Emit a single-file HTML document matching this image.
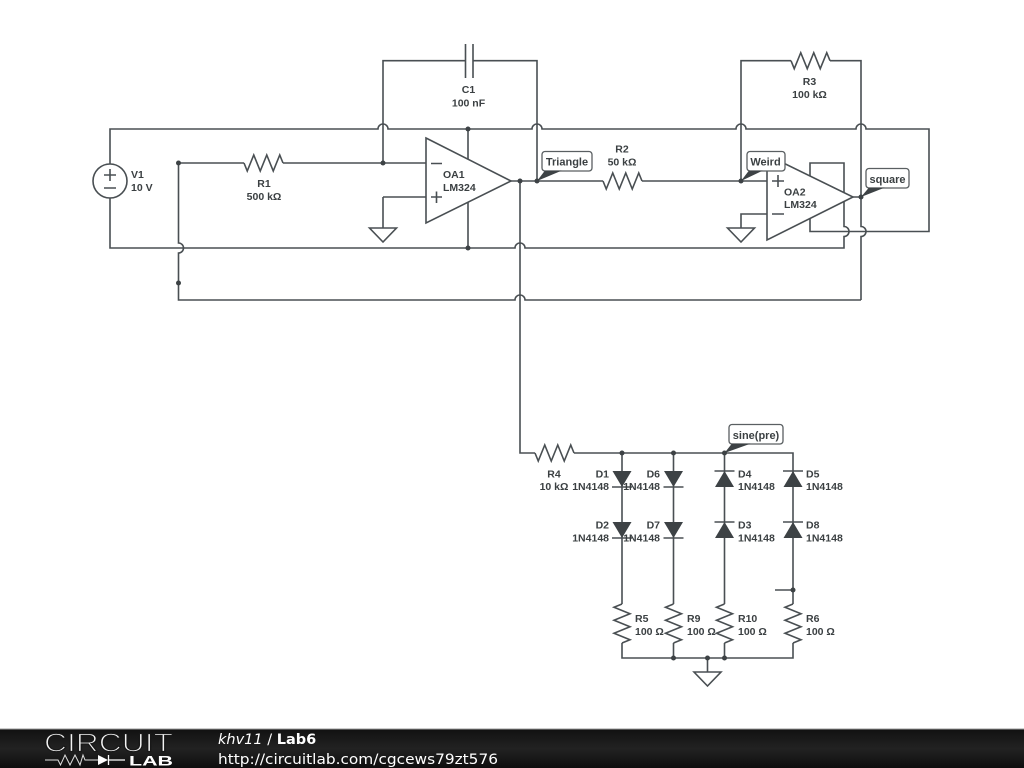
<!DOCTYPE html>
<html>
<head>
<meta charset="utf-8">
<style>
html,body{margin:0;padding:0;background:#fff;width:1024px;height:768px;overflow:hidden}
svg{display:block}
.w{fill:none;stroke:#4a4f52;stroke-width:1.6}
.g{fill:#fff;stroke:#4a4f52;stroke-width:1.6}
.o{fill:#fff;stroke:#4a4f52;stroke-width:1.6}
.d{fill:#3c4245;stroke:none}
.t{font-family:"Liberation Sans",sans-serif;font-weight:bold;font-size:10.500px;fill:#3a3f42}
.n{font-size:11px}
.m{text-anchor:middle}
.e{text-anchor:end}
.b{fill:#fff;stroke:#5a5f62;stroke-width:1.300}
</style>
</head>
<body>
<svg width="1024" height="768" viewBox="0 0 1024 768" xmlns="http://www.w3.org/2000/svg">
<defs>
<linearGradient id="f" x1="0" y1="0" x2="0" y2="1">
<stop offset="0" stop-color="#111"/><stop offset="0.5" stop-color="#222"/><stop offset="1" stop-color="#0e0e0e"/>
</linearGradient>
<filter id="soft" filterUnits="userSpaceOnUse" x="0" y="0" width="1024" height="768"><feGaussianBlur stdDeviation="0.3"/></filter>
<path id="rh" d="M0 0L3.250 8L9.750 -8L16.250 8L22.750 -8L29.250 8L35.750 -8L39 0" fill="none" stroke="#4a4f52" stroke-width="1.600"/>
<path id="rv" d="M0 0L-8 3.250L8 9.750L-8 16.250L8 22.750L-8 29.250L8 35.750L0 39" fill="none" stroke="#4a4f52" stroke-width="1.600"/>
<g id="dd"><path d="M-9.500 0H9.500L0 16Z" class="d"/><path d="M-10 16H10" class="w"/></g>
<g id="du"><path d="M-9.500 16H9.500L0 0Z" class="d"/><path d="M-10 0H10" class="w"/></g>
<path id="gnd" d="M-13.500 0H13.500L0 14Z" class="g"/>
</defs>

<g filter="url(#soft)">
<!-- top supply wire with hops -->
<path class="w" d="M110 164V129H378A5 5 0 0 1 388 129H532A5 5 0 0 1 542 129H736A5 5 0 0 1 746 129H856A5 5 0 0 1 866 129H929V231.500H810V163H844V226.500A5 5 0 0 1 844 236.500V248H525A5 5 0 0 0 515 248H183.500"/>
<!-- V1 bottom wire -->
<path class="w" d="M110 198V248H183.500"/>
<path class="w" d="M178.500 163H244M283 163H426"/>
<path class="w" d="M178.500 163V243A5 5 0 0 1 178.500 253V300H515A5 5 0 0 1 525 300H861"/>
<!-- C1 -->
<path class="w" d="M383 197V228M383 163V60.700H465.500M473 60.700H537V181"/>
<path class="w" d="M465.500 44V78M473 44V78"/>
<!-- R3 -->
<path class="w" d="M741 181V60.700H791M830 60.700H861V226.500A5 5 0 0 1 861 236.500V300"/>
<use href="#rh" x="791" y="60.700"/>
<use href="#rh" x="244" y="163"/>
<use href="#rh" x="603" y="181"/>
<path class="w" d="M468 129V248M426 197H383"/>
<path class="w" d="M511 181H603M642 181H767M520 181V453H535M574 453H793V471"/>
<path class="w" d="M853 197H861M767 214H741V228"/>
<!-- OA1 -->
<path class="o" d="M426 138L511 181L426 223Z"/>
<path class="w" d="M431 163.500H442M436.500 191.500V203M431 197H442"/>
<!-- OA2 -->
<path class="o" d="M767 155L853 197L767 240Z"/>
<path class="w" d="M772 181H784M778 175V187M772 214H784"/>
<!-- V1 symbol -->
<circle cx="110" cy="181" r="17" class="w"/>
<path class="w" d="M104 175H116M110 169V181M104 188H116"/>
<!-- grounds -->
<use href="#gnd" x="383" y="228"/>
<use href="#gnd" x="741" y="228"/>
<use href="#gnd" x="707.500" y="672"/>
<!-- R4 -->
<use href="#rh" x="535" y="453"/>
<!-- Branches -->
<path class="w" d="M622 453V604M673.500 453V604M724.500 453V604M793 471V604"/>
<path class="w" d="M622 643V658H793V643M673.500 643V658M724.500 643V658M707.500 658V672M793 590H775"/>
<use href="#dd" x="622" y="471"/><use href="#dd" x="622" y="522"/>
<use href="#dd" x="673.500" y="471"/><use href="#dd" x="673.500" y="522"/>
<use href="#du" x="724.500" y="471"/><use href="#du" x="724.500" y="522"/>
<use href="#du" x="793" y="471"/><use href="#du" x="793" y="522"/>
<use href="#rv" x="622" y="604"/><use href="#rv" x="673.500" y="604"/>
<use href="#rv" x="724.500" y="604"/><use href="#rv" x="793" y="604"/>
<!-- dots -->
<g class="d">
<circle cx="178.500" cy="163" r="2.500"/><circle cx="178.500" cy="283" r="2.500"/>
<circle cx="383" cy="163" r="2.500"/><circle cx="468" cy="129" r="2.500"/><circle cx="468" cy="248" r="2.500"/>
<circle cx="520" cy="181" r="2.500"/><circle cx="537" cy="181" r="2.500"/><circle cx="741" cy="181" r="2.500"/><circle cx="861" cy="197" r="2.500"/>
<circle cx="622" cy="453" r="2.500"/><circle cx="673.500" cy="453" r="2.500"/><circle cx="724.500" cy="453" r="2.500"/>
<circle cx="793" cy="590" r="2.500"/><circle cx="673.500" cy="658" r="2.500"/><circle cx="707.500" cy="658" r="2.500"/><circle cx="724.500" cy="658" r="2.500"/>
</g>
<!-- net labels -->
<rect class="b" x="542" y="151.500" width="50" height="19.500" rx="3"/>
<path class="d" d="M537 181L545 170.500H562Z"/>
<text class="t m n" x="567" y="165.500">Triangle</text>
<rect class="b" x="747" y="151.500" width="38" height="19.500" rx="3"/>
<path class="d" d="M741 181L749 170.500H763Z"/>
<text class="t m n" x="765.500" y="165.500">Weird</text>
<rect class="b" x="866" y="168.500" width="43" height="19.500" rx="3"/>
<path class="d" d="M861 197L869 187.500H885Z"/>
<text class="t m n" x="887.500" y="183">square</text>
<rect class="b" x="729" y="424.500" width="54" height="19.500" rx="3"/>
<path class="d" d="M724.500 453L732 443.500H751Z"/>
<text class="t m n" x="756" y="439">sine(pre)</text>
<!-- text labels -->
<text class="t" x="131" y="178">V1</text><text class="t" x="131" y="191">10 V</text>
<text class="t m" x="264" y="187">R1</text><text class="t m" x="264" y="200">500 kΩ</text>
<text class="t m" x="468.500" y="93">C1</text><text class="t m" x="468.500" y="106.500">100 nF</text>
<text class="t" x="443" y="178">OA1</text><text class="t" x="443" y="191">LM324</text>
<text class="t m" x="622" y="152.500">R2</text><text class="t m" x="622" y="165.500">50 kΩ</text>
<text class="t m" x="809.500" y="85">R3</text><text class="t m" x="809.500" y="98">100 kΩ</text>
<text class="t" x="784" y="195.500">OA2</text><text class="t" x="784" y="208">LM324</text>
<text class="t m" x="554" y="477.500">R4</text><text class="t m" x="554" y="490">10 kΩ</text>
<text class="t e" x="609" y="477.500">D1</text><text class="t e" x="609" y="490">1N4148</text>
<text class="t e" x="609" y="528.500">D2</text><text class="t e" x="609" y="541.500">1N4148</text>
<text class="t e" x="660" y="477.500">D6</text><text class="t e" x="660" y="490">1N4148</text>
<text class="t e" x="660" y="528.500">D7</text><text class="t e" x="660" y="541.500">1N4148</text>
<text class="t" x="738" y="477.500">D4</text><text class="t" x="738" y="490">1N4148</text>
<text class="t" x="738" y="528.500">D3</text><text class="t" x="738" y="541.500">1N4148</text>
<text class="t" x="806" y="477.500">D5</text><text class="t" x="806" y="490">1N4148</text>
<text class="t" x="806" y="528.500">D8</text><text class="t" x="806" y="541.500">1N4148</text>
<text class="t" x="635" y="622">R5</text><text class="t" x="635" y="635">100 Ω</text>
<text class="t" x="687" y="622">R9</text><text class="t" x="687" y="635">100 Ω</text>
<text class="t" x="738" y="622">R10</text><text class="t" x="738" y="635">100 Ω</text>
<text class="t" x="806" y="622">R6</text><text class="t" x="806" y="635">100 Ω</text>
</g>
<!-- footer -->
<rect x="0" y="729" width="1024" height="39" fill="url(#f)"/>
<rect x="0" y="728.500" width="1024" height="1" fill="#9a9a9a"/>
<text x="44" y="751.500" font-family="'Liberation Sans',sans-serif" font-size="26" fill="#f4f4f4" stroke="#181818" stroke-width="1.200" textLength="129" lengthAdjust="spacingAndGlyphs">CIRCUIT</text>
<path d="M45 760H58L60.500 765L65 755L70 765L75 755L80 765L83 755L85 760H98" fill="none" stroke="#e0e0e0" stroke-width="1"/>
<path d="M98 755V765L108 760Z" fill="#fff"/>
<path d="M108.500 755V765M108 760H125" fill="none" stroke="#fff" stroke-width="1.300"/>
<text x="129" y="765.500" font-family="'Liberation Sans',sans-serif" font-weight="bold" font-size="14" fill="#fff" textLength="44" lengthAdjust="spacingAndGlyphs">LAB</text>
<text x="218" y="744" font-family="'DejaVu Sans',sans-serif" font-size="14.500" fill="#fff"><tspan font-style="italic">khv11</tspan> / <tspan font-weight="bold">Lab6</tspan></text>
<text x="218" y="764" font-family="'DejaVu Sans',sans-serif" font-size="14.500" fill="#fff" textLength="280" lengthAdjust="spacingAndGlyphs">http://circuitlab.com/cgcews79zt576</text>
</svg>
</body>
</html>
